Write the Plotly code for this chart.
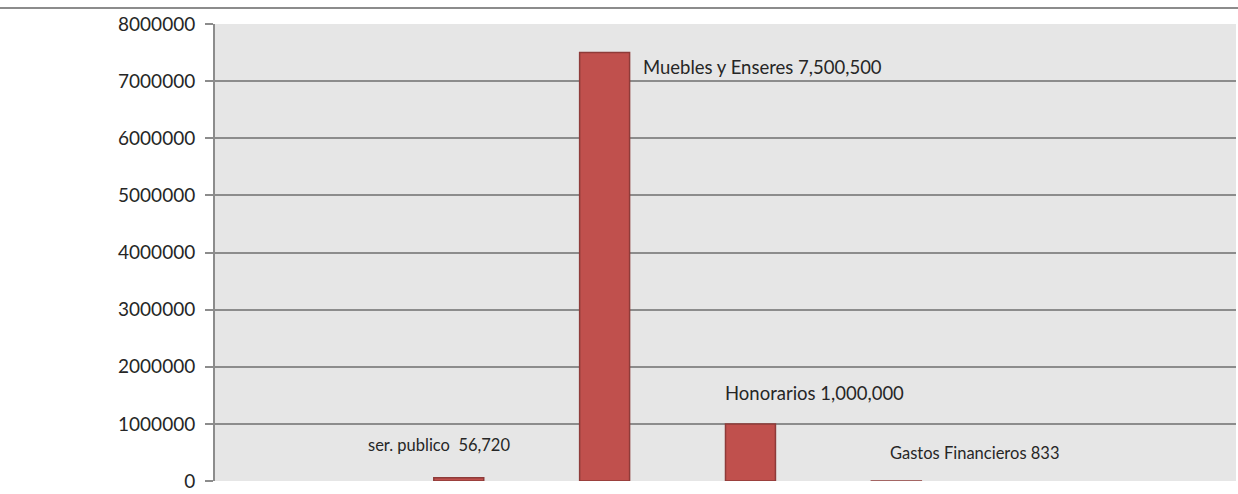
import plotly.graph_objects as go

categories = ["ser. publico", "Muebles y Enseres", "Honorarios", "Gastos Financieros"]
values = [56720, 7500500, 1000000, 833]
label_texts = ["ser. publico  56,720", "Muebles y Enseres 7,500,500", "Honorarios 1,000,000", "Gastos Financieros 833"]
slot_count = 7
first_slot = 1
y_ticks = [0, 1000000, 2000000, 3000000, 4000000, 5000000, 6000000, 7000000, 8000000]

bar_w = 50 / 146
xs = [first_slot + i for i in range(len(categories))]

fig = go.Figure()
fig.add_trace(go.Bar(
    x=xs, y=values, width=bar_w, offset=0,
    marker=dict(color="#c0504d", line=dict(color="#8e3b39", width=1.5)),
    hovertext=categories, showlegend=False,
))

# label placement (pixel offsets relative to bar top centre)
label_style = [
    dict(xshift=-20, yshift=33, xanchor="center", size=16.5),
    dict(xshift=36, yshift=-14, xanchor="left", size=18.5),
    dict(xshift=64, yshift=31, xanchor="center", size=18.5),
    dict(xshift=78, yshift=28, xanchor="center", size=16.5),
]
for x, v, t, s in zip(xs, values, label_texts, label_style):
    fig.add_annotation(x=x + bar_w / 2, y=v, text=t, showarrow=False,
                       xanchor=s["xanchor"], yanchor="middle",
                       xshift=s["xshift"], yshift=s["yshift"],
                       font=dict(family="Lato", size=s["size"], color="#262626"))

fig.add_shape(type="line", xref="paper", yref="paper", x0=-0.3, x1=1.01, y0=1.035, y1=1.035,
              line=dict(color="#8c8c8c", width=2))

fig.update_layout(
    width=1238, height=494,
    margin=dict(l=215, r=2, t=24, b=11),
    paper_bgcolor="white", plot_bgcolor="#e6e6e6",
    xaxis=dict(range=[-0.5, slot_count - 0.5], showticklabels=False, showgrid=False,
               zeroline=False, showline=False, fixedrange=True),
    yaxis=dict(range=[0, 8000000], tickvals=y_ticks, ticktext=[str(v) for v in y_ticks],
               showgrid=True, gridcolor="#8c8c8c", gridwidth=2,
               ticks="outside", ticklen=8, tickcolor="#8c8c8c", tickwidth=2,
               ticklabelstandoff=6,
               showline=True, linecolor="#8c8c8c", linewidth=2, zeroline=False,
               tickfont=dict(family="Lato", size=19, color="#262626")),
)
fig.write_html("out.html", config={"displayModeBar": False},
               post_script="document.body.style.margin='0px';")
